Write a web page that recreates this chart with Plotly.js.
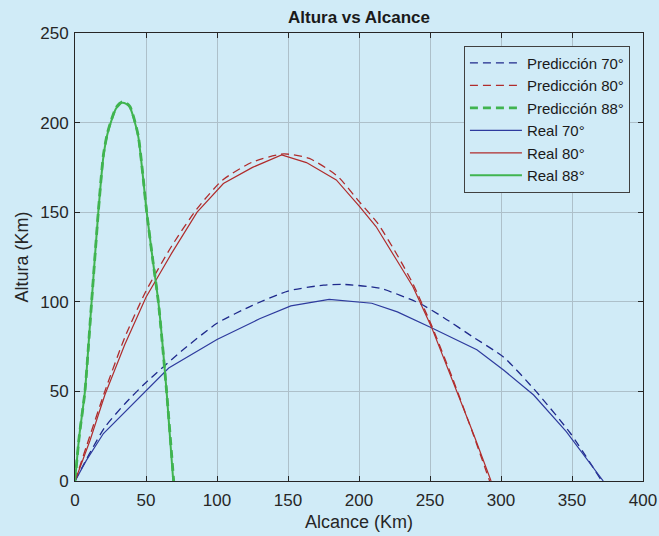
<!DOCTYPE html>
<html>
<head>
<meta charset="utf-8">
<script src="https://cdn.plot.ly/plotly-3.0.1.min.js"></script>
<style>html,body{margin:0;padding:0;background:#d0ebf7;}</style>
</head>
<body>
<div id="chart" style="width:659px;height:536px;"></div>
<script>
// Predicción 70°
const pred70X = [0, 10, 21, 35, 50, 75, 100, 125, 150, 175, 189, 215, 243, 260, 280, 302, 325, 349, 371];
const pred70Y = [0, 15, 30, 43, 55, 72.5, 88, 98, 106, 109.3, 109.7, 107.5, 99, 91, 80.5, 69, 49.7, 26.5, 0];
// Predicción 80°
const pred80X = [0, 10, 21, 35, 50, 68, 86, 104, 125, 147, 165, 185, 200, 213, 227, 238, 251, 266, 280, 292];
const pred80Y = [0, 24, 50, 80, 106, 131, 152, 168, 178, 182.5, 180, 170, 156, 144, 126, 110, 87, 57, 27, 0];
// Predicción 88°
const pred88X = [0, 3, 7, 11.7, 16.4, 20, 22.8, 25.8, 29, 33, 36, 38.7, 41.5, 44.6, 47.5, 50.5, 55, 58.7, 64.5, 69.5];
const pred88Y = [0, 25, 50, 100, 150, 182, 194, 202, 208.5, 211.5, 211, 209, 202.5, 192.5, 173, 150, 122, 100, 50, 0];
// Real 70°
const real70X = [0, 8, 20, 35, 50, 66, 100, 130, 152, 179, 209, 227, 251, 283, 302, 323, 346, 372];
const real70Y = [0, 11.5, 26.5, 38.5, 50, 63, 79, 90.5, 97.7, 101.3, 99.2, 94.4, 85.5, 73.3, 61.8, 48, 27.5, 0];
// Real 80°
const real80X = [0, 5, 10.5, 21, 35, 50, 68, 86, 104.5, 125, 145.5, 163, 184, 200, 212, 226.5, 238, 251, 266, 280.5, 293];
const real80Y = [0, 11, 22.5, 48, 76, 102.5, 127, 150, 166, 175, 182, 177.7, 168, 153.5, 142, 123.3, 108.4, 86, 56.3, 26.5, 0];
// Real 88°
const real88X = [0, 3, 7, 11.7, 16.4, 20, 22.8, 25.8, 29, 33, 36, 38.7, 41.5, 44.6, 47.5, 50.5, 55, 58.7, 64.5, 69.2];
const real88Y = [0, 25, 50, 100, 150, 181, 193.5, 201.5, 208, 211, 210.5, 208.5, 202, 192, 172.5, 150, 122, 100, 50, 0];

const xTicks = [0, 50, 100, 150, 200, 250, 300, 350, 400];
const yTicks = [0, 50, 100, 150, 200, 250];

const BLUE = '#1f2a8c', RED = '#b02c2c', GREEN = '#40b450';
const DASH = '8px,5px';

const traces = [
  {x: pred70X, y: pred70Y, name: 'Predicción 70°', line: {color: BLUE, width: 1.3, dash: DASH, shape: 'spline', smoothing: 0.6}},
  {x: pred80X, y: pred80Y, name: 'Predicción 80°', line: {color: RED, width: 1.3, dash: DASH, shape: 'spline', smoothing: 0.6}},
  {x: pred88X, y: pred88Y, name: 'Predicción 88°', line: {color: GREEN, width: 2.8, dash: DASH, shape: 'spline', smoothing: 0.6}},
  {x: real70X, y: real70Y, name: 'Real 70°', line: {color: '#2e3b9e', width: 1.2}},
  {x: real80X, y: real80Y, name: 'Real 80°', line: {color: RED, width: 1.2}},
  {x: real88X, y: real88Y, name: 'Real 88°', line: {color: GREEN, width: 2, shape: 'spline', smoothing: 0.6}}
].map(t => Object.assign({type: 'scatter', mode: 'lines'}, t));

const axisCommon = {
  showline: true, linecolor: '#262626', linewidth: 1, mirror: 'ticks',
  ticks: 'inside', ticklen: 5, tickcolor: '#262626',
  showgrid: true, gridcolor: '#adc0ca', gridwidth: 1,
  zeroline: false, tickfont: {family: 'Liberation Sans, Arial, sans-serif', size: 17, color: '#262626'}
};

const layout = {
  width: 659, height: 536,
  paper_bgcolor: '#d0ebf7', plot_bgcolor: '#d0ebf7',
  margin: {l: 75, r: 16, t: 33, b: 55},
  font: {family: 'Liberation Sans, Arial, sans-serif', color: '#262626'},
  title: {text: '<b>Altura vs Alcance</b>', x: 0.5, xref: 'paper', y: 0.968, yref: 'container', yanchor: 'middle',
          font: {size: 17, color: '#1a1a1a'}},
  xaxis: Object.assign({}, axisCommon, {
    range: [0, 400], tickvals: xTicks, ticktext: xTicks.map(String), ticklabelstandoff: 4,
    title: {text: 'Alcance (Km)', font: {size: 18, color: '#262626'}, standoff: 5}
  }),
  yaxis: Object.assign({}, axisCommon, {
    range: [0, 250], tickvals: yTicks, ticktext: yTicks.map(String), ticklabelstandoff: 2,
    title: {text: 'Altura (Km)', font: {size: 18, color: '#262626'}, standoff: 6}
  }),
  showlegend: true,
  legend: {
    x: 0.977, xanchor: 'right', y: 0.972, yanchor: 'top',
    bgcolor: '#d0ebf7', bordercolor: '#404040', borderwidth: 1,
    font: {size: 15, color: '#1a1a1a'}, tracegroupgap: 0, itemwidth: 52
  }
};

Plotly.newPlot('chart', traces, layout, {displayModeBar: false, staticPlot: true});
</script>
</body>
</html>
